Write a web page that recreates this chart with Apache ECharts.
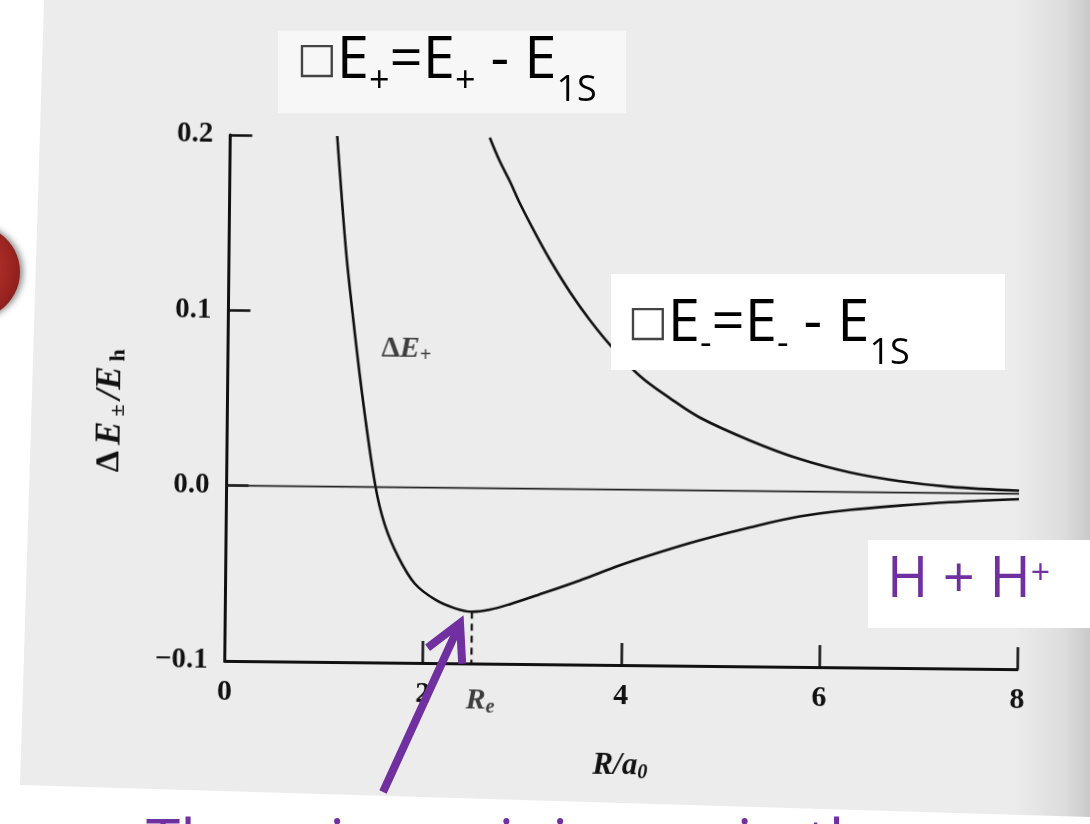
<!DOCTYPE html>
<html><head><meta charset="utf-8">
<script src="https://cdn.jsdelivr.net/npm/echarts@6/dist/echarts.min.js"></script>
<style>
html,body{margin:0;padding:0;background:#fff;overflow:hidden;width:1090px;height:824px;}
.layer{position:absolute;left:0;top:0;width:1090px;height:824px;}
#chart{transform:rotate(0.6deg);transform-origin:620px 400px;}
</style></head><body>
<div id="bg" class="layer"></div>
<div id="chart" class="layer"></div>
<div id="overlay" class="layer"></div>
<script>
// ---- data ----
const xTickLabels = ['0', '2', '4', '6', '8'];
const yTickLabels = ['\u22120.1', '0.0', '0.1', '0.2'];
// bonding curve  ΔE+ (R / a0 , ΔE / Eh)
const rPlus = [1.08, 1.18, 1.25, 1.36, 1.50, 1.60, 1.74, 1.91, 2.12, 2.32, 2.49, 2.67, 2.87, 3.17, 3.58, 3.98, 4.38, 4.78, 5.29, 5.79, 6.29, 6.80, 7.30, 8.00];
const ePlus = [0.200, 0.135, 0.1007, 0.0524, 0.0013, -0.0212, -0.0396, -0.0548, -0.0639, -0.0687, -0.0705, -0.0692, -0.0660, -0.0602, -0.0519, -0.0431, -0.0354, -0.0284, -0.0207, -0.0142, -0.0102, -0.0074, -0.0052, -0.0030];
// antibonding curve ΔE-
const rMinus = [2.62, 2.72, 2.83, 2.93, 3.085, 3.24, 3.445, 3.65, 3.875, 4.16, 4.465, 4.77, 5.28, 5.78, 6.29, 6.795, 7.30, 8.00];
const eMinus = [0.200, 0.187, 0.1749, 0.1628, 0.1462, 0.1307, 0.1125, 0.0965, 0.0813, 0.0650, 0.0525, 0.0416, 0.0288, 0.0186, 0.0112, 0.0065, 0.0036, 0.0018];
// dissociation limit (ΔE = 0)
const rLimit = [0, 8];
const eLimit = [0, 0];
// equilibrium separation and minimum energy
const rEq = 2.49;
const eMinVal = -0.0705;

const serif = 'Liberation Serif';
const sans = 'Open Sans';
const purple = '#7030a0';

// ---- background page ----
const bg = echarts.init(document.getElementById('bg'));
bg.setOption({
  animation: false,
  graphic: [
    { type: 'polygon', shape: { points: [[44, 0], [1090, 0], [1090, 817], [20, 785]] },
      style: { fill: { type: 'linear', x: 0, y: 0, x2: 1, y2: 0, colorStops: [
        { offset: 0, color: '#ececec' }, { offset: 0.93, color: '#ececec' },
        { offset: 0.975, color: '#dddddd' }, { offset: 1, color: '#c9c9c9' }] } } },
    { type: 'ellipse', shape: { cx: -30, cy: 272, rx: 50, ry: 48 },
      style: { fill: { type: 'radial', x: 0.45, y: 0.45, r: 0.6, colorStops: [
        { offset: 0, color: '#d0413b' }, { offset: 1, color: '#8e1e1b' }] },
        shadowBlur: 6, shadowColor: 'rgba(0,0,0,0.45)', shadowOffsetX: 3 } }
  ]
});

// ---- chart ----
const chart = echarts.init(document.getElementById('chart'));
const axisColor = '#111';
chart.setOption({
  animation: false,
  grid: { left: 227.5, right: 70, top: 139, bottom: 159 },
  xAxis: {
    type: 'value', min: 0, max: 8, interval: 2,
    axisLine: { onZero: false, lineStyle: { color: axisColor, width: 3 } },
    axisTick: { inside: true, length: 22, lineStyle: { color: axisColor, width: 2.5 } },
    axisLabel: { margin: 16, fontFamily: serif, fontSize: 30, fontWeight: 'bold', color: axisColor,
      formatter: v => xTickLabels[Math.round(v / 2)] },
    splitLine: { show: false },
    name: '{i|R/a}{s|0}', nameLocation: 'middle', nameGap: 84,
    nameTextStyle: { rich: {
      i: { fontFamily: serif, fontStyle: 'italic', fontWeight: 'bold', fontSize: 31, color: axisColor },
      s: { fontFamily: serif, fontStyle: 'italic', fontWeight: 'bold', fontSize: 20, color: axisColor, padding: [14, 0, 0, 0] } } }
  },
  yAxis: {
    type: 'value', min: -0.1, max: 0.2, interval: 0.1,
    axisLine: { onZero: false, lineStyle: { color: axisColor, width: 3 } },
    axisTick: { inside: true, length: 22, lineStyle: { color: axisColor, width: 2.5 } },
    axisLabel: { margin: 17, fontFamily: serif, fontSize: 29, fontWeight: 'bold', color: axisColor,
      formatter: v => yTickLabels[Math.round((v + 0.1) / 0.1)] },
    splitLine: { show: false },
    name: '{d|\u0394}{i|E}{s|\u00b1}{i|/E}{s|h}', nameLocation: 'middle', nameGap: 98, nameRotate: 90,
    nameTextStyle: { padding: [0, 26, 0, 0], rich: {
      d: { fontFamily: serif, fontWeight: 'bold', fontSize: 34, color: axisColor, padding: [0, 3, 0, 0] },
      i: { fontFamily: serif, fontStyle: 'italic', fontWeight: 'bold', fontSize: 35, color: axisColor, padding: [0, 3, 0, 3] },
      s: { fontFamily: serif, fontWeight: 'bold', fontSize: 22, color: axisColor, padding: [16, 2, 0, 2] } } }
  },
  series: [
    { name: 'ΔE+', type: 'line', data: rPlus.map((r, i) => [r, ePlus[i]]), symbol: 'none',
      smooth: 0.35, lineStyle: { color: '#111', width: 2.6 } },
    { name: 'ΔE-', type: 'line', data: rMinus.map((r, i) => [r, eMinus[i]]), symbol: 'none',
      smooth: 0.35, lineStyle: { color: '#111', width: 2.6 } },
    { name: 'limit', type: 'line', data: rLimit.map((r, i) => [r, eLimit[i]]), symbol: 'none',
      lineStyle: { color: '#222', width: 1.8 } },
    { name: 'Re', type: 'line', data: [[rEq, eMinVal], [rEq, -0.1]], symbol: 'none',
      lineStyle: { color: '#111', width: 2.2, type: [7, 5] } },
    { name: 'labels', type: 'scatter', symbolSize: 0, silent: true,
      data: [
        { value: [1.8, 0.079], label: { show: true, position: 'inside', formatter: '{d|\u0394}{i|E}{s|+}' } },
        { value: [2.58, -0.1], label: { show: true, position: 'inside', offset: [0, 37], formatter: '{i|R}{s|e}' } }
      ],
      label: { rich: {
        d: { fontFamily: serif, fontWeight: 'bold', fontSize: 29, color: axisColor },
        i: { fontFamily: serif, fontStyle: 'italic', fontWeight: 'bold', fontSize: 30, color: axisColor },
        s: { fontFamily: serif, fontStyle: 'italic', fontWeight: 'bold', fontSize: 20, color: axisColor, padding: [14, 0, 0, 0] } } }
    }
  ]
});

// ---- slide overlay ----
const ov = echarts.init(document.getElementById('overlay'));
const boxRich = {
  b: { fontFamily: 'DejaVu Sans', fontSize: 42, fill: '#444', lineHeight: 60 },
  n: { fontFamily: sans, fontSize: 58, fill: '#000', lineHeight: 60 },
  p: { fontFamily: sans, fontSize: 36, fill: '#000', lineHeight: 36, padding: [42, 0, 0, 0] },
  s: { fontFamily: sans, fontSize: 36, fill: '#000', lineHeight: 36, padding: [59, 0, 0, 0] }
};
ov.setOption({
  animation: false,
  graphic: [
    { type: 'rect', shape: { x: 278, y: 31, width: 348, height: 82 }, style: { fill: '#f7f7f7' } },
    { type: 'text', x: 297, y: 31, style: { text: '{b|\u25a1}{n|E}{p|+}{n|=E}{p|+}{n| - E}{s|1S}', rich: boxRich, align: 'left', verticalAlign: 'top' } },
    { type: 'rect', shape: { x: 611, y: 274, width: 394, height: 96 }, style: { fill: '#ffffff' } },
    { type: 'text', x: 628, y: 294, style: { text: '{b|\u25a1}{n|E}{p|-}{n|=E}{p|-}{n| - E}{s|1S}', rich: boxRich, align: 'left', verticalAlign: 'top' } },
    { type: 'rect', shape: { x: 868, y: 540, width: 222, height: 88 }, style: { fill: '#ffffff' } },
    { type: 'text', x: 887, y: 551, style: { text: '{h|H + H}{u|+}', align: 'left', verticalAlign: 'top', rich: {
      h: { fontFamily: sans, fontSize: 56, fill: purple, lineHeight: 60 },
      u: { fontFamily: sans, fontSize: 34, fill: purple, lineHeight: 34, padding: [6, 0, 0, 0], verticalAlign: 'top' } } } },
    { type: 'line', shape: { x1: 383, y1: 792, x2: 458, y2: 628 }, style: { stroke: purple, lineWidth: 8 } },
    { type: 'polyline', shape: { points: [[427.6, 647.7], [460, 623], [462.2, 663.7]] },
      style: { stroke: purple, lineWidth: 8, fill: null, lineJoin: 'miter' } },
    { type: 'text', x: 146, y: 846, style: { text: 'There is a minimum in the', fontFamily: sans, fontSize: 62, fill: purple, align: 'left', verticalAlign: 'middle' } }
  ]
});
</script>
</body></html>
